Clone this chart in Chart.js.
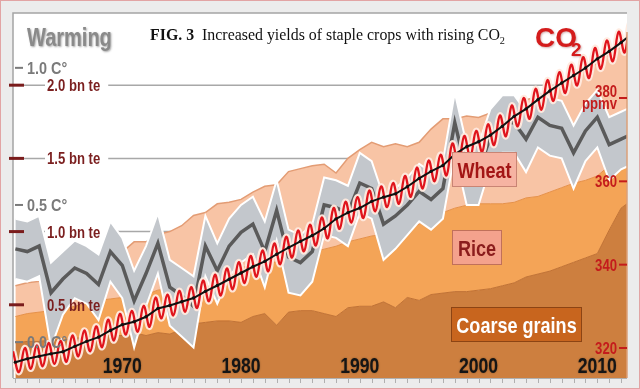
<!DOCTYPE html>
<html>
<head>
<meta charset="utf-8">
<script src="https://cdn.jsdelivr.net/npm/chart.js@4.4.0/dist/chart.umd.min.js"></script>
<style>
  html, body { margin: 0; padding: 0; background: #ececec; }
  #wrap { width: 640px; height: 389px; }
</style>
</head>
<body>
<div id="wrap"><canvas id="chart" width="640" height="389"></canvas></div>
<script>
// years 1961..2013, one value per year
const years = Array.from({ length: 53 }, (_, i) => 1961 + i);

// crop production, bn tonnes (stacked: coarse grains, rice, wheat)
const coarseGrains = [0.24,0.25,0.25,0.26,0.26,0.27,0.28,0.29,0.29,0.29,
  0.31,0.29,0.31,0.30,0.33,0.37,0.38,0.39,0.39,0.38,
  0.42,0.44,0.36,0.45,0.46,0.46,0.44,0.42,0.48,0.49,
  0.49,0.52,0.48,0.55,0.53,0.57,0.58,0.59,0.59,0.60,
  0.61,0.63,0.65,0.69,0.71,0.73,0.76,0.79,0.82,0.85,
  1.01,1.16,1.22];
const rice = [0.18,0.19,0.20,0.20,0.21,0.22,0.23,0.24,0.25,0.26,
  0.26,0.28,0.29,0.31,0.33,0.33,0.33,0.33,0.33,0.37,
  0.36,0.36,0.43,0.38,0.38,0.40,0.44,0.48,0.45,0.46,
  0.48,0.46,0.51,0.48,0.52,0.53,0.55,0.57,0.59,0.59,
  0.58,0.56,0.55,0.54,0.53,0.54,0.54,0.54,0.53,0.53,
  0.44,0.33,0.29];
const wheat = [0.21,0.21,0.21,0.23,0.23,0.26,0.27,0.29,0.29,0.31,
  0.36,0.36,0.38,0.39,0.38,0.41,0.42,0.47,0.48,0.47,
  0.49,0.51,0.53,0.58,0.59,0.59,0.58,0.50,0.57,0.61,
  0.64,0.60,0.61,0.55,0.56,0.60,0.64,0.61,0.61,0.59,
  0.62,0.63,0.66,0.67,0.68,0.70,0.71,0.74,0.75,0.77,
  0.76,0.77,0.81];

// warming, deg C (line and band)
const temperature = [0.34,0.33,0.35,0.18,0.23,0.27,0.25,0.21,0.33,0.28,
  0.15,0.25,0.36,0.20,0.17,0.13,0.35,0.26,0.35,0.40,
  0.43,0.33,0.48,0.31,0.29,0.33,0.50,0.49,0.47,0.58,
  0.56,0.43,0.46,0.50,0.55,0.52,0.56,0.80,0.62,0.62,
  0.75,0.80,0.80,0.74,0.82,0.79,0.78,0.69,0.77,0.82,
  0.72,0.74,0.76];
const tempHigh = [0.45,0.44,0.46,0.29,0.33,0.37,0.35,0.32,0.44,0.38,
  0.26,0.35,0.47,0.30,0.27,0.24,0.46,0.36,0.45,0.50,
  0.53,0.44,0.59,0.41,0.39,0.43,0.60,0.59,0.57,0.69,
  0.66,0.53,0.56,0.60,0.65,0.62,0.66,0.91,0.72,0.72,
  0.85,0.90,0.90,0.84,0.92,0.89,0.88,0.79,0.87,0.92,
  0.82,0.84,0.86];
const tempLow = [0.23,0.22,0.24,-0.02,0.10,0.16,0.14,0.08,0.22,0.16,
  -0.02,0.13,0.25,0.06,0.02,-0.02,0.24,0.14,0.24,0.29,
  0.32,0.20,0.37,0.18,0.17,0.22,0.39,0.38,0.35,0.47,
  0.45,0.30,0.34,0.39,0.44,0.41,0.45,0.69,0.50,0.50,
  0.64,0.69,0.69,0.62,0.71,0.68,0.67,0.56,0.66,0.71,
  0.59,0.63,0.65];

// CO2 ppmv: annual mean, seasonal high and low
const co2Mean = [316.6,317.4,318.0,318.6,319.1,320.4,321.6,322.6,324.2,325.6,
  326.3,327.5,329.5,330.2,331.1,332.0,333.6,335.0,336.5,338.0,
  339.5,340.8,342.5,344.1,345.6,347.0,348.7,351.0,352.5,353.6,
  355.2,356.2,357.0,358.7,360.7,362.4,363.8,366.5,368.3,369.5,
  371.1,373.2,375.6,377.4,379.6,381.7,383.6,385.4,387.2,389.4,
  391.2,393.3,395.6];
const co2High = [319.2,320.0,320.6,321.2,321.7,323.0,324.2,325.2,326.8,328.2,
  328.9,330.1,332.1,332.8,333.7,334.6,336.2,337.6,339.1,340.6,
  342.1,343.4,345.1,346.7,348.2,349.6,351.3,353.6,355.1,356.2,
  357.8,358.8,359.6,361.3,363.3,365.0,366.4,369.1,370.9,372.1,
  373.7,375.8,378.2,380.0,382.2,384.3,386.2,388.0,389.8,392.0,
  393.8,395.9,398.2];
const co2Low = [314.2,315.0,315.6,316.2,316.7,318.0,319.2,320.2,321.8,323.2,
  323.9,325.1,327.1,327.8,328.7,329.6,331.2,332.6,334.1,335.6,
  337.1,338.4,340.1,341.7,343.2,344.6,346.3,348.6,350.1,351.2,
  352.8,353.8,354.6,356.3,358.3,360.0,361.4,364.1,365.9,367.1,
  368.7,370.8,373.2,375.0,377.2,379.3,381.2,383.0,384.8,387.0,
  388.8,390.9,393.2];

// tick labels
const yearLabels = [1970, 1980, 1990, 2000, 2010];
const cropTicks = [0.5, 1.0, 1.5, 2.0];
const tempTicks = [0.0, 0.5, 1.0];
const co2Ticks = [320, 340, 360, 380];

const SANS = '"Liberation Sans", Arial, sans-serif';
const SERIF = '"Liberation Serif", "Times New Roman", serif';

// stacked tops for the crop areas
const riceTop = rice.map((v, i) => coarseGrains[i] + v);
const wheatTop = wheat.map((v, i) => riceTop[i] + v);

const pts = vals => vals.map((v, i) => ({ x: years[i] + 0.5, y: v }));
const co2Seasonal = [];
years.forEach((yr, i) => {
  co2Seasonal.push({ x: yr + 0.3, y: co2High[i] });
  co2Seasonal.push({ x: yr + 0.8, y: co2Low[i] });
});

function squeezed(ctx, text, x, y, font, color, align, sx) {
  ctx.save();
  ctx.font = font;
  ctx.fillStyle = color;
  ctx.textAlign = align || 'left';
  ctx.textBaseline = 'alphabetic';
  ctx.translate(x, y);
  ctx.scale(sx || 0.82, 1);
  ctx.fillText(text, 0, 0);
  ctx.restore();
}

function labelBox(ctx, text, cx, cy, w, h, fill, stroke, color) {
  ctx.fillStyle = fill;
  ctx.fillRect(cx - w / 2, cy - h / 2, w, h);
  ctx.strokeStyle = stroke;
  ctx.lineWidth = 1;
  ctx.strokeRect(cx - w / 2 + 0.5, cy - h / 2 + 0.5, w - 1, h - 1);
  squeezed(ctx, text, cx, cy + 8, 'bold 22px ' + SANS, color, 'center');
}

const decor = {
  id: 'decor',
  beforeDraw(chart) {
    const { ctx, chartArea: a, scales } = chart;
    ctx.save();
    ctx.fillStyle = '#ececec';
    ctx.fillRect(0, 0, chart.width, chart.height);
    ctx.strokeStyle = '#e2a4a4';
    ctx.lineWidth = 1;
    ctx.strokeRect(0.5, 0.5, chart.width - 1, chart.height - 1);
    ctx.fillStyle = '#ffffff';
    ctx.fillRect(a.left, a.top, a.right - a.left, a.bottom - a.top);

    ctx.strokeStyle = '#a4a4a4';
    ctx.lineWidth = 1.5;
    ctx.beginPath();
    ctx.moveTo(a.left, a.bottom);
    ctx.lineTo(a.left, a.top);
    ctx.lineTo(a.right, a.top);
    ctx.stroke();

    // bn te grid lines, broken around their labels
    ctx.font = 'bold 16px ' + SANS;
    cropTicks.forEach(v => {
      const y = scales.yCrop.getPixelForValue(v);
      const w = ctx.measureText(v.toFixed(1) + ' bn te').width * 0.82;
      ctx.strokeStyle = '#a8a8a8';
      ctx.lineWidth = 1.5;
      ctx.beginPath();
      ctx.moveTo(a.left + 11, y);
      ctx.lineTo(a.left + 32, y);
      ctx.moveTo(a.left + 34 + w + 8, y);
      ctx.lineTo(a.right, y);
      ctx.stroke();
    });
    ctx.restore();
  },
  afterDatasetsDraw(chart) {
    const { ctx, chartArea: a, scales } = chart;
    ctx.save();

    // right axis line
    ctx.strokeStyle = '#dba07a';
    ctx.lineWidth = 1.5;
    ctx.beginPath();
    ctx.moveTo(a.right, 32);
    ctx.lineTo(a.right, a.bottom);
    ctx.stroke();

    // bottom axis and yearly ticks
    ctx.strokeStyle = '#b0b0b0';
    ctx.lineWidth = 1;
    ctx.beginPath();
    ctx.moveTo(a.left, a.bottom + 0.5);
    ctx.lineTo(a.right, a.bottom + 0.5);
    years.forEach(yr => {
      const x = Math.round(scales.x.getPixelForValue(yr + 0.5)) + 0.5;
      if (x <= a.right) {
        ctx.moveTo(x, a.bottom);
        ctx.lineTo(x, a.bottom + 5);
      }
    });
    ctx.stroke();

    // crop axis labels
    cropTicks.forEach(v => {
      const y = scales.yCrop.getPixelForValue(v);
      ctx.strokeStyle = '#7a1c1c';
      ctx.lineWidth = 3;
      ctx.beginPath();
      ctx.moveTo(9, y);
      ctx.lineTo(24, y);
      ctx.stroke();
      squeezed(ctx, v.toFixed(1) + ' bn te', a.left + 34, y + 6, 'bold 16px ' + SANS, '#7b1f1f', 'left');
    });

    // warming axis labels
    tempTicks.forEach(v => {
      const y = scales.yTemp.getPixelForValue(v);
      ctx.strokeStyle = '#7a7a7a';
      ctx.lineWidth = 2;
      ctx.beginPath();
      ctx.moveTo(a.left + 2, y);
      ctx.lineTo(a.left + 10, y);
      ctx.stroke();
      squeezed(ctx, v.toFixed(1) + ' C\u00b0', a.left + 14, y + 6, 'bold 16px ' + SANS, '#7a7a7a', 'left', 0.9);
    });

    // CO2 axis labels
    co2Ticks.forEach(v => {
      const y = scales.yCO2.getPixelForValue(v);
      ctx.strokeStyle = '#c41c1c';
      ctx.lineWidth = 2;
      ctx.beginPath();
      ctx.moveTo(a.right - 8, y);
      ctx.lineTo(a.right, y);
      ctx.stroke();
      if (v === 380) {
        squeezed(ctx, String(v), a.right - 10, y - 1, 'bold 16px ' + SANS, '#c41c1c', 'right');
        squeezed(ctx, 'ppmv', a.right - 10, y + 11, 'bold 16px ' + SANS, '#c41c1c', 'right');
      } else {
        squeezed(ctx, String(v), a.right - 10, y + 6, 'bold 16px ' + SANS, '#c41c1c', 'right');
      }
    });

    // year labels
    ctx.shadowColor = 'rgba(0,0,0,0.35)';
    ctx.shadowBlur = 2;
    yearLabels.forEach(yr => {
      const x = scales.x.getPixelForValue(yr + 0.5);
      squeezed(ctx, String(yr), x, a.bottom - 5, 'bold 22px ' + SANS, '#151515', 'center', 0.8);
    });
    ctx.shadowBlur = 0;
    ctx.shadowColor = 'rgba(0,0,0,0)';

    // series name boxes
    labelBox(ctx, 'Wheat', 484.5, 169.5, 65, 35, '#f6b3a2', '#c98474', '#a31515');
    labelBox(ctx, 'Rice', 477, 247.5, 50, 35, '#f4a28d', '#c0705a', '#8b1c1c');
    labelBox(ctx, 'Coarse grains', 516.5, 324.5, 131, 35, '#c8651e', '#8c4414', '#ffffff');

    // Warming and CO2 headings
    ctx.shadowColor = 'rgba(60,60,60,0.45)';
    ctx.shadowBlur = 2;
    ctx.shadowOffsetX = 1;
    ctx.shadowOffsetY = 1;
    squeezed(ctx, 'Warming', a.left + 14, 46, 'bold 25px ' + SANS, '#8a8a8a', 'left', 0.8);
    ctx.shadowColor = 'rgba(120,0,0,0.3)';
    squeezed(ctx, 'CO', 535, 47, 'bold 28px ' + SANS, '#d41c1c', 'left', 1);
    squeezed(ctx, '2', 571, 56, 'bold 19px ' + SANS, '#d41c1c', 'left', 1);
    ctx.shadowBlur = 0;
    ctx.shadowOffsetX = 0;
    ctx.shadowOffsetY = 0;
    ctx.shadowColor = 'rgba(0,0,0,0)';

    // title
    const f1 = 'bold 17px ' + SERIF;
    const f2 = '17px ' + SERIF;
    const f3 = '11px ' + SERIF;
    const part1 = 'FIG. 3';
    const part2 = '  Increased yields of staple crops with rising CO';
    ctx.font = f1;
    const w1 = ctx.measureText(part1).width;
    ctx.font = f2;
    const w2 = ctx.measureText(part2).width;
    ctx.font = f3;
    const w3 = ctx.measureText('2').width;
    const sx = 355 / (w1 + w2 + w3);
    ctx.translate(150, 40);
    ctx.scale(sx, 1);
    ctx.fillStyle = '#111111';
    ctx.textAlign = 'left';
    ctx.font = f1;
    ctx.fillText(part1, 0, 0);
    ctx.font = f2;
    ctx.fillText(part2, w1, 0);
    ctx.font = f3;
    ctx.fillText('2', w1 + w2, 4);
    ctx.restore();
  }
};

new Chart(document.getElementById('chart'), {
  type: 'line',
  data: {
    datasets: [
      { label: 'Coarse grains', data: pts(coarseGrains), yAxisID: 'yCrop', fill: 'origin',
        backgroundColor: '#cd7f3f', borderColor: '#c27233', borderWidth: 1, order: 9 },
      { label: 'Rice', data: pts(riceTop), yAxisID: 'yCrop', fill: '-1',
        backgroundColor: '#f4a457', borderColor: '#e6914a', borderWidth: 1, order: 9 },
      { label: 'Wheat', data: pts(wheatTop), yAxisID: 'yCrop', fill: '-1',
        backgroundColor: '#f8c4a5', borderColor: '#e39c74', borderWidth: 1.5, order: 9 },
      { label: 'Warming upper', data: pts(tempHigh), yAxisID: 'yTemp', fill: '+1',
        backgroundColor: '#c3c7cc', borderColor: '#ffffff', borderWidth: 2, order: 7 },
      { label: 'Warming lower', data: pts(tempLow), yAxisID: 'yTemp', fill: false,
        borderColor: '#ffffff', borderWidth: 2, order: 6 },
      { label: 'Warming', data: pts(temperature), yAxisID: 'yTemp', fill: false,
        borderColor: '#5a5a5a', borderWidth: 3.5, order: 5 },
      { label: 'CO2 glow', data: co2Seasonal, yAxisID: 'yCO2', fill: false,
        borderColor: 'rgba(255,234,222,0.95)', borderWidth: 6.5, tension: 0.4, order: 4 },
      { label: 'CO2 monthly', data: co2Seasonal, yAxisID: 'yCO2', fill: false,
        borderColor: '#e0141c', borderWidth: 2.3, tension: 0.4, order: 3 },
      { label: 'CO2 annual', data: pts(co2Mean), yAxisID: 'yCO2', fill: false,
        borderColor: '#111111', borderWidth: 2, pointRadius: 1.7,
        pointBackgroundColor: '#111111', pointBorderWidth: 0, order: 2 }
    ]
  },
  options: {
    responsive: false,
    animation: false,
    devicePixelRatio: 1,
    layout: { padding: { left: 13, right: 13, top: 13, bottom: 11 } },
    datasets: { line: { clip: 0, tension: 0 } },
    elements: { point: { radius: 0 } },
    plugins: { legend: { display: false }, tooltip: { enabled: false } },
    scales: {
      x: { type: 'linear', min: 1961.3, max: 2013, display: false },
      yCrop: { type: 'linear', min: 0, max: 2.493, display: false },
      yTemp: { type: 'linear', min: -0.131, max: 1.2, display: false },
      yCO2: { type: 'linear', min: 312.8, max: 400.4, display: false }
    }
  },
  plugins: [decor]
});
</script>
</body>
</html>
